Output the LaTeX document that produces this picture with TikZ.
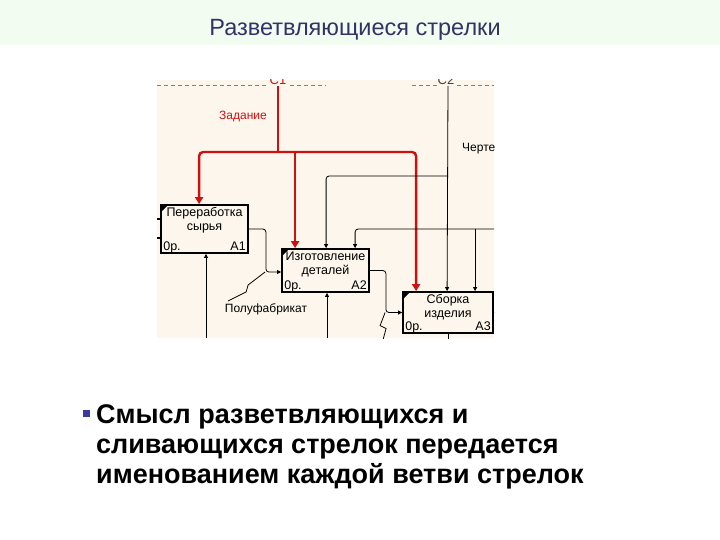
\documentclass[tikz,border=0pt]{standalone}
\usepackage{fontspec}
\setmainfont{Liberation Sans}
\usetikzlibrary{arrows.meta,calc}
\definecolor{titleband}{HTML}{F2FCF0}
\definecolor{titleblue}{HTML}{333366}
\definecolor{diagbg}{HTML}{FCF6EC}
\definecolor{ctrlred}{HTML}{D01010}
\definecolor{bulletblue}{HTML}{3A3AA0}

\tikzset{
  actbox/.style={draw=black, line width=1.8pt, fill=diagbg, inner sep=0pt},
  redline/.style={ctrlred, line width=2.4pt},
  redtip/.style={-{Triangle[length=7pt,width=8pt]}},
  thinline/.style={black, line width=0.8pt},
  blktip/.style={-{Triangle[length=4pt,width=4pt]}},
  boxtxt/.style={font=\fontsize{12.5}{14}\selectfont, align=center, inner sep=0pt},
  bodytxt/.style={font=\bfseries\fontsize{27}{30}\selectfont, anchor=base west, inner sep=0pt},
}

% one IDEF0 activity box: name, centre, width, height, two text lines
\newcommand{\idefbox}[7]{%
  \node[actbox, minimum width=#4pt, minimum height=#5pt] (#1) at (#2,#3) {};
  \fill ($(#1.north west)+(1.5,1.5)$) -- ++(6,0) -- ++(-6,6) -- cycle;
  \node[boxtxt, anchor=north] (#1-name) at ($(#1.north)+(0,3.5)$) {#6\\#7};
  \node[boxtxt, anchor=base west] (#1-op) at ($(#1.south west)+(3,-3.5)$) {0р.};
  \node[boxtxt, anchor=base east] (#1-num) at ($(#1.south east)+(-3,-3.5)$) {#1};
}

\begin{document}
\begin{tikzpicture}[x=1pt, y=-1pt]
\useasboundingbox (0,0) rectangle (720,540);
\fill[white] (0,0) rectangle (720,540);

% ---- Title band ----
\fill[titleband] (0,0) rectangle (720,45);
\node[font=\fontsize{23.5}{26}\selectfont, titleblue] (title) at (355,30) {Разветвляющиеся стрелки};

% ---- IDEF0 screenshot (clipped as in the slide) ----
\begin{scope}
\clip (157,80) rectangle (494,338);
\fill[diagbg] (157,80) rectangle (494,338);

% top border with cut tunnel labels
\foreach \xa/\xb in {157/268, 290/326, 412/438, 457/494}
  \draw[gray, dash pattern=on 4pt off 3pt] (\xa,85) -- (\xb,85);
\node[ctrlred, font=\fontsize{13}{13}\selectfont] (c1lab) at (278,80) {С1};
\node[black!75, font=\fontsize{13}{13}\selectfont] (c2lab) at (446,80) {С2};

% activity boxes
\idefbox{A1}{204.5}{229}{87}{48}{Переработка}{сырья}
\idefbox{A2}{325.5}{270.5}{87}{43}{Изготовление}{деталей}
\idefbox{A3}{448}{312.5}{90}{41}{Сборка}{изделия}

% stubs on the sides of A1 and A3
\foreach \dy in {-10, 9}
  \draw[line width=2pt] ($(A1.west)+(0,\dy)$) -- ++(-5,0);
\draw[thinline] (A3.east) -- ++(5,0);
\draw[thinline] (A3.south) -- ++(0,6);

% ---- Branching control arrow (red) ----
\coordinate (c1) at (278,86);
\coordinate (jn) at (278,152);
\coordinate (a1c) at ($(A1.north west)+(39,0)$);
\coordinate (a2c) at ($(A2.north west)+(14,0)$);
\coordinate (a3c) at ($(A3.north west)+(14,0)$);
\draw[redline] (c1) -- (jn);
\draw[redline, redtip, rounded corners=4pt] (jn) -| (a1c);
\draw[redline, redtip] (a2c |- jn) -- (a2c);
\draw[redline, redtip, rounded corners=4pt] (jn) -| (a3c);
\node[ctrlred, font=\fontsize{12}{13}\selectfont] (zad) at (243,117) {Задание};

% ---- Drawing arrows (black) ----
\coordinate (c2) at (448,86);
\coordinate (br2) at (448,176);
\coordinate (rt) at (494,229);
\coordinate (a3c2) at ($(A3.north west)+(45,0)$);
\coordinate (a2c2) at ($(A2.north west)+(45,0)$);
\coordinate (a2c3) at ($(A2.north west)+(74,0)$);
\coordinate (a3c3) at ($(A3.north west)+(73,0)$);
\draw[thinline, blktip] (c2) -- (a3c2);
\draw[thinline, blktip, rounded corners=3pt] (br2) -| (a2c2);
\draw[thinline, blktip, rounded corners=3pt] (rt) -| (a2c3);
\draw[thinline, blktip] (a3c3 |- rt) -- (a3c3);
\node[font=\fontsize{12}{13}\selectfont, anchor=west, inner sep=0pt] (cher) at (462,149) {Чертеж};

% ---- Outputs feeding the next box ----
\coordinate (a2in) at ($(A2.west)+(0,1.5)$);
\draw[thinline, blktip, rounded corners=3pt] (A1.east) -- ++(17,0) |- (a2in);
\draw[thinline, blktip, rounded corners=3pt] (A2.east) -- ++(16,0) |- (A3.west);

% squiggles to the arrow labels
\draw[thinline] ($(a2in)+(-16,0)$) -- ++(-17,13) -- ++(-2,7) -- ++(-18,9);
\draw[thinline] ($(A3.west)+(-17,0)$) -- ++(-5,13) -- ++(6,3) -- ++(-3,11);
\node[font=\fontsize{12}{13}\selectfont] (pf) at (266,309) {Полуфабрикат};

% ---- Mechanism arrows from below ----
\coordinate (m1) at (206,338);
\coordinate (m2) at (327,338);
\draw[thinline, blktip] (m1) -- (m1 |- A1.south);
\draw[thinline, blktip] (m2) -- (m2 |- A2.south);
\end{scope}

% ---- Bullet text ----
\fill[bulletblue] (83,410) rectangle (90,417);
\node[bodytxt] (pt1) at (96,423) {Смысл разветвляющихся и};
\node[bodytxt] (pt2) at (96,453) {сливающихся стрелок передается};
\node[bodytxt] (pt3) at (96,483) {именованием каждой ветви стрелок};

\end{tikzpicture}
\end{document}
